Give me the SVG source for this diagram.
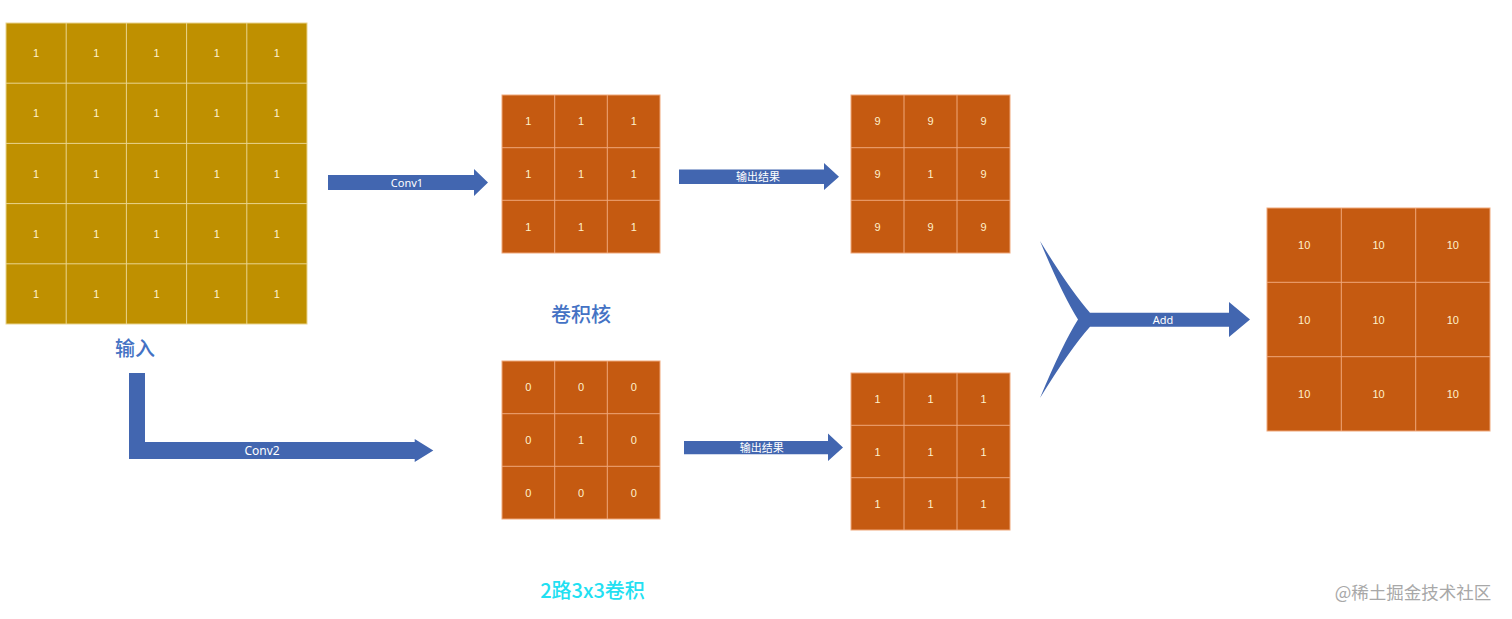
<svg xmlns="http://www.w3.org/2000/svg" width="1512" height="619" viewBox="0 0 1512 619">
<style>
.gold{fill:#BF9000;stroke:#E9D48E;stroke-width:1}
.org{fill:#C55A11;stroke:#EFA77A;stroke-width:1}
.ln-g{stroke:#E9D48E;stroke-width:1}
.ln-o{stroke:#EFA77A;stroke-width:1}
.n{font-family:"Liberation Sans","Noto Sans",sans-serif;font-size:11px;fill:#FFF2CC;text-anchor:middle;dominant-baseline:central}
.arrow{fill:#4266B0}
.al{font-family:"Noto Sans","Noto Sans CJK SC",sans-serif;font-size:11px;fill:#FFFFFF;text-anchor:middle;dominant-baseline:central}
.lbl{font-family:"Noto Sans CJK SC",sans-serif;font-size:20px;fill:#4472C4;text-anchor:middle;dominant-baseline:central;font-weight:500}
</style>
<rect width="1512" height="619" fill="#FFFFFF"/>

<g id="input">
<rect class="gold" x="6" y="23" width="301" height="301"/>
<path class="ln-g" d="M66.2 23V324M126.4 23V324M186.6 23V324M246.8 23V324M6 83.2H307M6 143.4H307M6 203.6H307M6 263.8H307"/>
<g class="n">
<text x="36.1" y="53.1">1</text><text x="96.3" y="53.1">1</text><text x="156.5" y="53.1">1</text><text x="216.7" y="53.1">1</text><text x="276.9" y="53.1">1</text>
<text x="36.1" y="113.3">1</text><text x="96.3" y="113.3">1</text><text x="156.5" y="113.3">1</text><text x="216.7" y="113.3">1</text><text x="276.9" y="113.3">1</text>
<text x="36.1" y="173.5">1</text><text x="96.3" y="173.5">1</text><text x="156.5" y="173.5">1</text><text x="216.7" y="173.5">1</text><text x="276.9" y="173.5">1</text>
<text x="36.1" y="233.7">1</text><text x="96.3" y="233.7">1</text><text x="156.5" y="233.7">1</text><text x="216.7" y="233.7">1</text><text x="276.9" y="233.7">1</text>
<text x="36.1" y="293.9">1</text><text x="96.3" y="293.9">1</text><text x="156.5" y="293.9">1</text><text x="216.7" y="293.9">1</text><text x="276.9" y="293.9">1</text>
</g>
<text class="lbl" x="135" y="347">输入</text>
</g>

<g id="kernel1">
<rect class="org" x="502" y="95" width="158" height="158"/>
<path class="ln-o" d="M554.7 95V253M607.3 95V253M502 147.7H660M502 200.3H660"/>
<g class="n">
<text x="528.3" y="121.3">1</text><text x="581" y="121.3">1</text><text x="633.7" y="121.3">1</text>
<text x="528.3" y="174">1</text><text x="581" y="174">1</text><text x="633.7" y="174">1</text>
<text x="528.3" y="226.7">1</text><text x="581" y="226.7">1</text><text x="633.7" y="226.7">1</text>
</g>
</g>

<g id="output1">
<rect class="org" x="851" y="95" width="159" height="158"/>
<path class="ln-o" d="M904 95V253M957 95V253M851 147.7H1010M851 200.3H1010"/>
<g class="n">
<text x="877.5" y="121.3">9</text><text x="930.5" y="121.3">9</text><text x="983.5" y="121.3">9</text>
<text x="877.5" y="174">9</text><text x="930.5" y="174">1</text><text x="983.5" y="174">9</text>
<text x="877.5" y="226.7">9</text><text x="930.5" y="226.7">9</text><text x="983.5" y="226.7">9</text>
</g>
</g>

<g id="kernel-label">
<text class="lbl" x="581" y="313">卷积核</text>
</g>

<g id="kernel2">
<rect class="org" x="502" y="361" width="158" height="158"/>
<path class="ln-o" d="M554.7 361V519M607.3 361V519M502 413.7H660M502 466.3H660"/>
<g class="n">
<text x="528.3" y="387.3">0</text><text x="581" y="387.3">0</text><text x="633.7" y="387.3">0</text>
<text x="528.3" y="440">0</text><text x="581" y="440">1</text><text x="633.7" y="440">0</text>
<text x="528.3" y="492.7">0</text><text x="581" y="492.7">0</text><text x="633.7" y="492.7">0</text>
</g>
</g>

<g id="output2">
<rect class="org" x="851" y="373" width="159" height="157"/>
<path class="ln-o" d="M904 373V530M957 373V530M851 425.3H1010M851 477.7H1010"/>
<g class="n">
<text x="877.5" y="399.2">1</text><text x="930.5" y="399.2">1</text><text x="983.5" y="399.2">1</text>
<text x="877.5" y="451.5">1</text><text x="930.5" y="451.5">1</text><text x="983.5" y="451.5">1</text>
<text x="877.5" y="503.8">1</text><text x="930.5" y="503.8">1</text><text x="983.5" y="503.8">1</text>
</g>
</g>

<g id="result">
<rect class="org" x="1267" y="208" width="223" height="223"/>
<path class="ln-o" d="M1341.3 208V431M1415.7 208V431M1267 282.3H1490M1267 356.7H1490"/>
<g class="n">
<text x="1304.2" y="245.2">10</text><text x="1378.5" y="245.2">10</text><text x="1452.8" y="245.2">10</text>
<text x="1304.2" y="319.5">10</text><text x="1378.5" y="319.5">10</text><text x="1452.8" y="319.5">10</text>
<text x="1304.2" y="393.8">10</text><text x="1378.5" y="393.8">10</text><text x="1452.8" y="393.8">10</text>
</g>
</g>

<g id="connectors">
<path class="arrow" d="M328 175H474V169L488 182.5L474 196V190H328Z"/>
<text class="al" x="407" y="182.5">Conv1</text>
<path class="arrow" d="M679 169.5H824V163L839 176.7L824 190V184H679Z"/>
<text class="al" x="758" y="176.7">输出结果</text>
<path class="arrow" d="M129 373H145V442H414.7V439L433.3 450.5L414.7 462V459H129Z"/>
<text class="al" x="262" y="450.5" style="font-size:12px">Conv2</text>
<path class="arrow" d="M684 441H828V433.5L843 447.5L828 461V454.3H684Z"/>
<text class="al" x="761.7" y="447.5">输出结果</text>
<path class="arrow" d="M1040 241Q1070 290 1090 312.7H1229V302L1250 319.5L1229 337V326.7H1090Q1070 349 1040 398Q1062 345 1078 319.5Q1062 294 1040 241Z"/>
<text class="al" x="1163" y="319.7">Add</text>
</g>

<text x="592.5" y="589" style="font-family:'Noto Sans CJK SC',sans-serif;font-size:20px;font-weight:500;fill:#22E0F2;text-anchor:middle;dominant-baseline:central">2路3x3卷积</text>
<text x="1413" y="591" style="font-family:'Noto Sans CJK SC',sans-serif;font-size:17.5px;fill:#A8A8A8;text-anchor:middle;dominant-baseline:central">@稀土掘金技术社区</text>
</svg>
